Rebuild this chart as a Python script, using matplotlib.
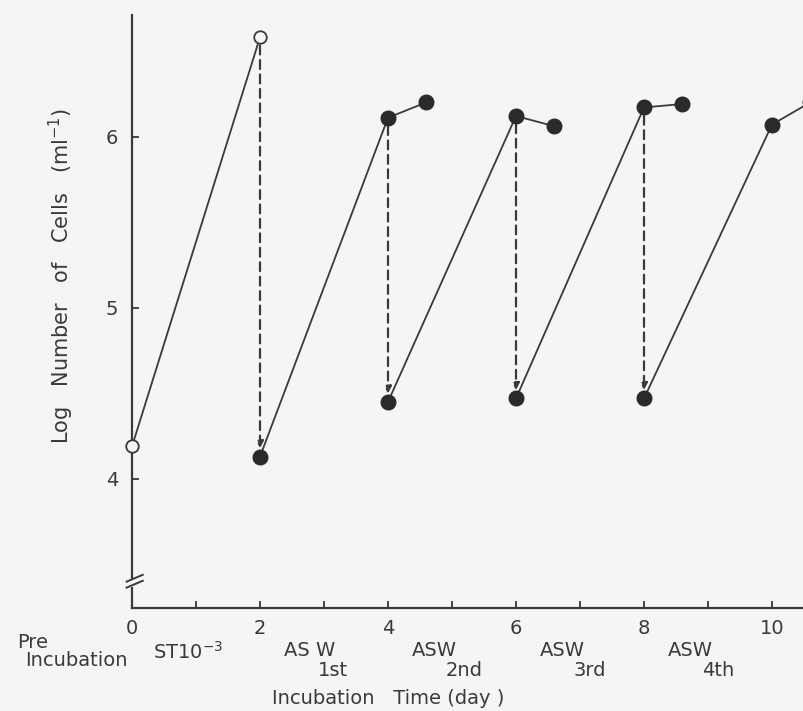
import matplotlib
matplotlib.use("Agg")
import matplotlib.pyplot as plt
import matplotlib.transforms as mtransforms

# ---------------- data ----------------
pre_x = [0, 2]
pre_y = [4.19, 6.58]

asw1_x = [2, 4, 4.6]
asw1_y = [4.13, 6.11, 6.20]
asw2_x = [4, 6, 6.6]
asw2_y = [4.45, 6.12, 6.06]
asw3_x = [6, 8, 8.6]
asw3_y = [4.47, 6.17, 6.19]
asw4_x = [8, 10, 10.6]
asw4_y = [4.47, 6.07, 6.20]

# transfers (dashed arrows): x, from y, to y
transfer_x = [2, 4, 6, 8]
transfer_from = [6.58, 6.11, 6.12, 6.17]
transfer_to = [4.13, 4.45, 4.47, 4.47]

x_ticks = [0, 1, 2, 3, 4, 5, 6, 7, 8, 9, 10]
x_ticklabels = ["0", "", "2", "", "4", "", "6", "", "8", "", "10"]
y_ticks = [4, 5, 6]
y_ticklabels = ["4", "5", "6"]

stage_x = [2, 4, 6, 8]
stage_names = ["AS W", "ASW", "ASW", "ASW"]
stage_ordinals = ["1st", "2nd", "3rd", "4th"]

# ---------------- style ----------------
W, H = 804, 711
bg = "#f6f5f5"
ink = "#3a3a3a"
plt.rcParams["font.family"] = ["DejaVu Sans"]

fig = plt.figure(figsize=(W / 100, H / 100), dpi=100, facecolor=bg)
ax_left, ax_bottom, ax_top = 132, 608, 15
ax = fig.add_axes([ax_left / W, 1 - ax_bottom / H, 1 - ax_left / W, (ax_bottom - ax_top) / H])
ax.set_facecolor(bg)
ax.set_xlim(0, (W - ax_left) / 64.0)
ax.set_ylim(3.246, 6.71)

for s in ["top", "right"]:
    ax.spines[s].set_visible(False)
for s in ["left", "bottom"]:
    ax.spines[s].set_color(ink)
    ax.spines[s].set_linewidth(1.6)

ax.set_xticks(x_ticks)
ax.set_xticklabels(x_ticklabels)
ax.set_yticks(y_ticks)
ax.set_yticklabels(y_ticklabels)
ax.tick_params(axis="both", direction="in", length=5, width=1.3, color=ink,
               labelcolor=ink, labelsize=14)
ax.tick_params(axis="x", pad=8)
ax.tick_params(axis="y", pad=10)

# growth lines
lw = 1.3
ax.plot(pre_x, pre_y, color=ink, lw=lw, marker="o", ms=9, mfc=bg, mec=ink, mew=1.3,
        clip_on=False, zorder=3)
for xs, ys in [(asw1_x, asw1_y), (asw2_x, asw2_y), (asw3_x, asw3_y), (asw4_x, asw4_y)]:
    ax.plot(xs, ys, color=ink, lw=lw, marker="o", ms=10.5, mfc="#2a2a2a", mec="#2a2a2a",
            clip_on=False, zorder=3)

# transfer arrows
for x, y0, y1 in zip(transfer_x, transfer_from, transfer_to):
    ax.annotate("", xy=(x, y1), xytext=(x, y0),
                arrowprops=dict(arrowstyle="-|>", color=ink, lw=1.6,
                                linestyle=(0, (4, 2.5)), mutation_scale=10,
                                shrinkA=6, shrinkB=6), zorder=2)

# axis break on the y axis
brk = mtransforms.blended_transform_factory(ax.transAxes, ax.transData)
ax.plot([-0.004, 0.004], [3.39, 3.39], transform=brk, color=bg, lw=5, clip_on=False, zorder=4)
ax.plot([-0.008, 0.016], [3.40, 3.44], transform=brk, color=ink, lw=1.4, clip_on=False, zorder=5)
ax.plot([-0.008, 0.016], [3.365, 3.405], transform=brk, color=ink, lw=1.4, clip_on=False, zorder=5)

# labels
fs = 14
def fx(px):
    return px / W
def fy(py):
    return 1 - py / H

fig.text(fx(61), fy(276), "Log   Number   of   Cells   (ml$^{-1}$)", rotation=90,
         ha="center", va="center", fontsize=15, color=ink)

fig.text(fx(17), fy(642), "Pre", ha="left", va="center", fontsize=fs, color=ink)
fig.text(fx(25), fy(660), "Incubation", ha="left", va="center", fontsize=fs, color=ink)
fig.text(fx(153), fy(652), "ST10$^{-3}$", ha="left", va="center", fontsize=fs, color=ink)

st = mtransforms.blended_transform_factory(ax.transData, fig.transFigure)
for x, name, ordn in zip(stage_x, stage_names, stage_ordinals):
    ax.text(x + 0.37, fy(650), name, transform=st, ha="left", va="center",
            fontsize=fs, color=ink, clip_on=False)
    ax.text(x + 0.90, fy(671), ordn, transform=st, ha="left", va="center",
            fontsize=fs, color=ink, clip_on=False)

fig.text(fx(272), fy(699), "Incubation   Time (day )", ha="left", va="center",
         fontsize=fs, color=ink)

fig.savefig("out.png", dpi=100, facecolor=bg)
